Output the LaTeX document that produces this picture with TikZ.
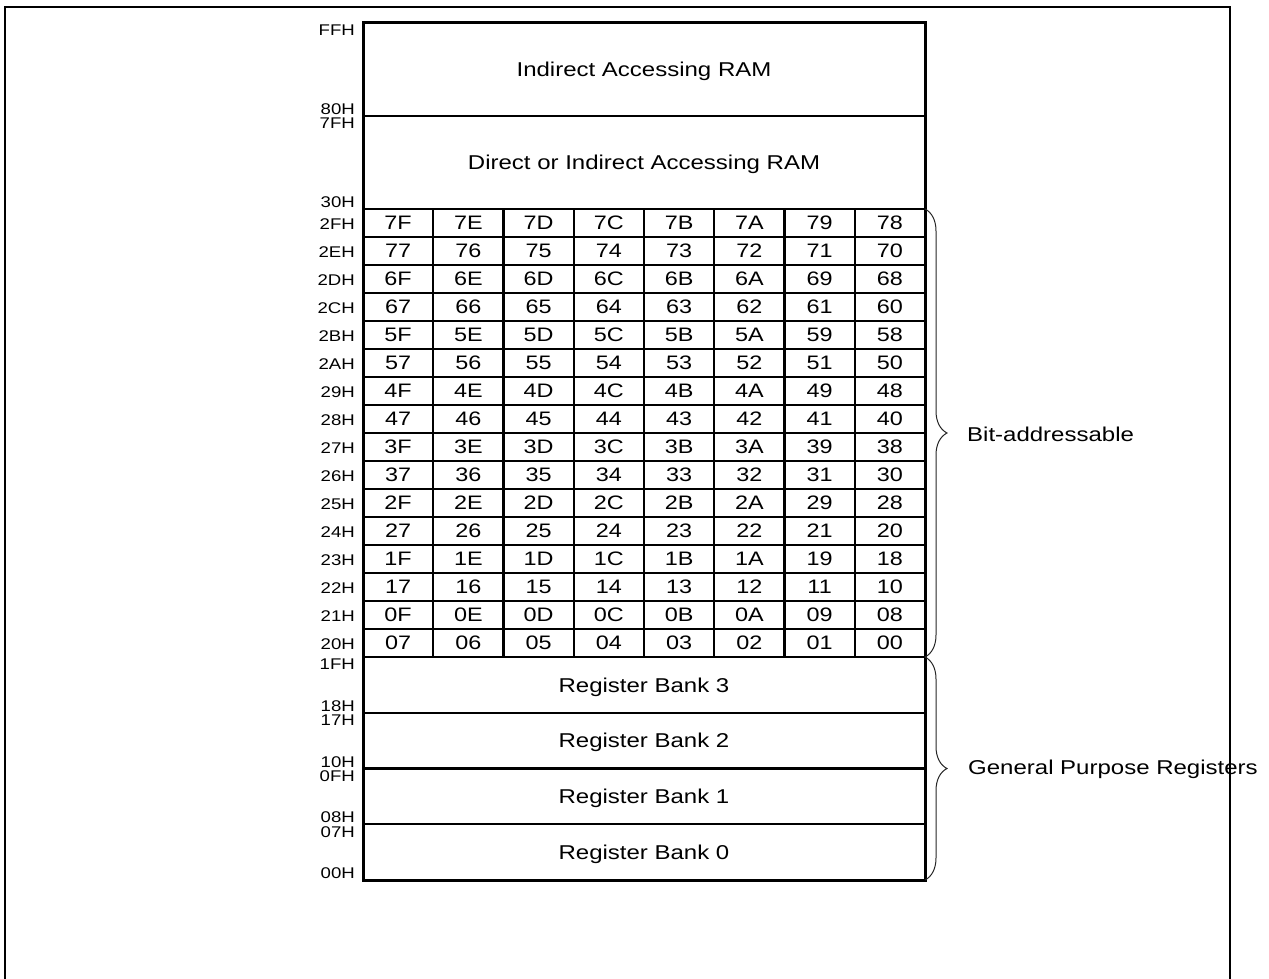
\documentclass[tikz,border=0pt]{standalone}
\usepackage{fontspec}
\setmainfont{Liberation Sans}[FakeStretch=1.2]
\usetikzlibrary{decorations.pathreplacing}
\begin{document}
\begin{tikzpicture}[x=1pt,y=-1pt,
  sect/.style={draw, line width=2.4pt, minimum width=562pt, inner sep=0pt, outer sep=0pt,
    text height=14.3pt, text depth=0pt, font=\fontsize{20}{24}\selectfont},
  cell/.style={draw, line width=2.4pt, minimum width=70.25pt, minimum height=28pt, inner sep=0pt, outer sep=0pt,
    text height=13.6pt, text depth=0pt, font=\fontsize{19.5}{20}\selectfont},
  addr/.style={inner sep=0pt, font=\fontsize{15.5}{15.5}\selectfont},
  lbl/.style={inner sep=0pt, anchor=base west, font=\fontsize{20}{24}\selectfont},
  brc/.style={decorate, decoration={brace, amplitude=22pt}, line width=1pt, black!85}]
\useasboundingbox (0,0) rectangle (1269,979);

% sections
\node[sect, minimum height=93pt] (ind) at (644,69.5) {Indirect Accessing RAM};
\node[sect, minimum height=93pt] (dir) at (644,162.5) {Direct or Indirect Accessing RAM};
\node[sect, minimum height=55.75pt] (b3) at (644,684.875) {Register Bank 3};
\node[sect, minimum height=55.75pt] (b2) at (644,740.625) {Register Bank 2};
\node[sect, minimum height=55.75pt] (b1) at (644,796.375) {Register Bank 1};
\node[sect, minimum height=55.75pt] (b0) at (644,852.125) {Register Bank 0};

% bit-addressable cells
\foreach \row [count=\r from 0] in {
  {7F,7E,7D,7C,7B,7A,79,78},
  {77,76,75,74,73,72,71,70},
  {6F,6E,6D,6C,6B,6A,69,68},
  {67,66,65,64,63,62,61,60},
  {5F,5E,5D,5C,5B,5A,59,58},
  {57,56,55,54,53,52,51,50},
  {4F,4E,4D,4C,4B,4A,49,48},
  {47,46,45,44,43,42,41,40},
  {3F,3E,3D,3C,3B,3A,39,38},
  {37,36,35,34,33,32,31,30},
  {2F,2E,2D,2C,2B,2A,29,28},
  {27,26,25,24,23,22,21,20},
  {1F,1E,1D,1C,1B,1A,19,18},
  {17,16,15,14,13,12,11,10},
  {0F,0E,0D,0C,0B,0A,09,08},
  {07,06,05,04,03,02,01,00}}{
  \foreach \v [count=\c from 0] in \row {
    \node[cell] (c-\r-\c) at ({363+70.25*(\c+0.5)},{209+28*(\r+0.5)}) {\v};
  }
}

% outer box of memory map
\draw[line width=3pt] (ind.north west) rectangle (b0.south east);

% address labels
\node[addr, anchor=north east] (aFF) at (355,25) {FFH};
\node[addr, anchor=base east] (a80) at (355,114.5) {80H};
\node[addr, anchor=north east] (a7F) at (355,118) {7FH};
\node[addr, anchor=base east] (a30) at (355,207.5) {30H};
\foreach \a [count=\r from 0] in {2FH,2EH,2DH,2CH,2BH,2AH,29H,28H,27H,26H,25H,24H,23H,22H,21H,20H}{
  \node[addr, anchor=east] (ar-\r) at (355,{224+28*\r}) {\a};
}
\node[addr, anchor=north east] (a1F) at (355,659) {1FH};
\node[addr, anchor=base east] (a18) at (355,711.25) {18H};
\node[addr, anchor=north east] (a17) at (355,714.75) {17H};
\node[addr, anchor=base east] (a10) at (355,767) {10H};
\node[addr, anchor=north east] (a0F) at (355,770.5) {0FH};
\node[addr, anchor=base east] (a08) at (355,822.75) {08H};
\node[addr, anchor=north east] (a07) at (355,826.25) {07H};
\node[addr, anchor=base east] (a00) at (355,878.5) {00H};

% braces and their labels
\draw[brc] (c-0-7.north east) -- (c-15-7.south east);
\draw[brc] (b3.north east) -- (b0.south east);
\node[lbl] (bitlbl) at (967,441) {Bit-addressable};
\node[lbl] (gprlbl) at (968,774) {General Purpose Registers};

% page frame
\draw[line width=1.5pt] (5,979) -- (5,7) -- (1230,7) -- (1230,979);
\end{tikzpicture}
\end{document}
